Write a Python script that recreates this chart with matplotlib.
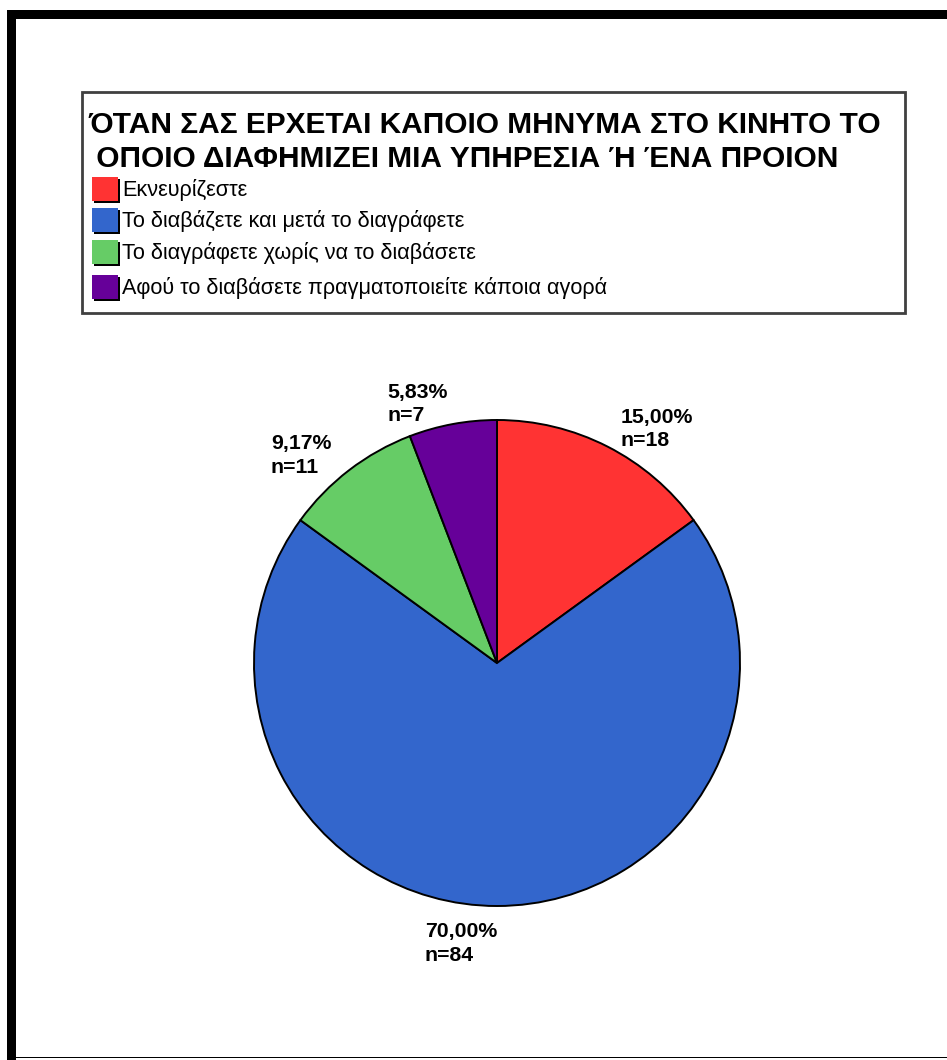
import numpy as np
import matplotlib
matplotlib.use('Agg')
import matplotlib.pyplot as plt
from matplotlib.patches import Rectangle

plt.rcParams['font.family'] = ['Liberation Sans', 'DejaVu Sans']

# Απαντήσεις (πλήθος ατόμων)
categories = ['Εκνευρίζεστε',
              'Το διαβάζετε και μετά το διαγράφετε',
              'Το διαγράφετε χωρίς να το διαβάσετε',
              'Αφού το διαβάσετε πραγματοποιείτε κάποια αγορά']
counts = [18, 84, 11, 7]
colors = ['#FF3333', '#3366CC', '#66CC66', '#660099']
title = ('ΌΤΑΝ ΣΑΣ ΕΡΧΕΤΑΙ ΚΑΠΟΙΟ ΜΗΝΥΜΑ ΣΤΟ ΚΙΝΗΤΟ ΤΟ\n'
         ' ΟΠΟΙΟ ΔΙΑΦΗΜΙΖΕΙ ΜΙΑ ΥΠΗΡΕΣΙΑ Ή ΈΝΑ ΠΡΟΙΟΝ')

W, H = 947, 1060
fig = plt.figure(figsize=(W / 100, H / 100), dpi=100)
fig.patch.set_facecolor('white')


def fx(px):
    return px / W


def fy(py):
    return 1 - py / H


# πλαίσιο γύρω από το γράφημα
fig.add_artist(Rectangle((fx(7), fy(19)), fx(940), 9 / H, transform=fig.transFigure,
                         facecolor='black', edgecolor='none'))
fig.add_artist(Rectangle((fx(7), 0), fx(9), fy(10), transform=fig.transFigure,
                         facecolor='black', edgecolor='none'))
fig.add_artist(Rectangle((fx(7), fy(1058)), fx(940), 1.2 / H, transform=fig.transFigure,
                         facecolor='black', edgecolor='none'))

# ----- πίτα -----
cx, cy, r = 497, 663, 243
ax = fig.add_axes([fx(cx - r), fy(cy + r), 2 * r / W, 2 * r / H])
wedges, _ = ax.pie(counts, colors=colors, startangle=90, counterclock=False,
                   wedgeprops=dict(edgecolor='black', linewidth=1.4))
ax.set_xlim(-1, 1)
ax.set_ylim(-1, 1)
ax.set_aspect('equal')
ax.axis('off')

total = sum(counts)
for w, n in zip(wedges, counts):
    mid = np.deg2rad((w.theta1 + w.theta2) / 2)
    x = 1.12 * np.cos(mid)
    y = 1.12 * np.sin(mid) - 0.035
    pct = f'{100 * n / total:.2f}'.replace('.', ',')
    ha = 'left' if x > 0.01 else 'right'
    ax.text(x, y, f'{pct}%\nn={n}', ha=ha, va='center', multialignment='left',
            fontsize=15.3, fontweight='bold', linespacing=1.3, clip_on=False)

# ----- υπόμνημα με τίτλο -----
fig.add_artist(Rectangle((fx(82), fy(313)), fx(823), 221 / H, transform=fig.transFigure,
                         facecolor='white', edgecolor='#404040', linewidth=2))
fig.text(fx(88), fy(111), title, ha='left', va='top', fontsize=21.5,
         fontweight='bold', linespacing=1.28)

row_y = [190, 221, 253, 288]
for yy, lab, c in zip(row_y, categories, colors):
    # μαύρη σκιά κάτω δεξιά
    fig.add_artist(Rectangle((fx(94), fy(yy + 13)), fx(26), 24 / H,
                             transform=fig.transFigure, facecolor='black', edgecolor='none'))
    fig.add_artist(Rectangle((fx(92), fy(yy + 11)), fx(26), 24 / H,
                             transform=fig.transFigure, facecolor=c, edgecolor='none'))
    fig.text(fx(122), fy(yy), lab, ha='left', va='center', fontsize=15.6)

fig.savefig('out.png', dpi=100, facecolor='white')
